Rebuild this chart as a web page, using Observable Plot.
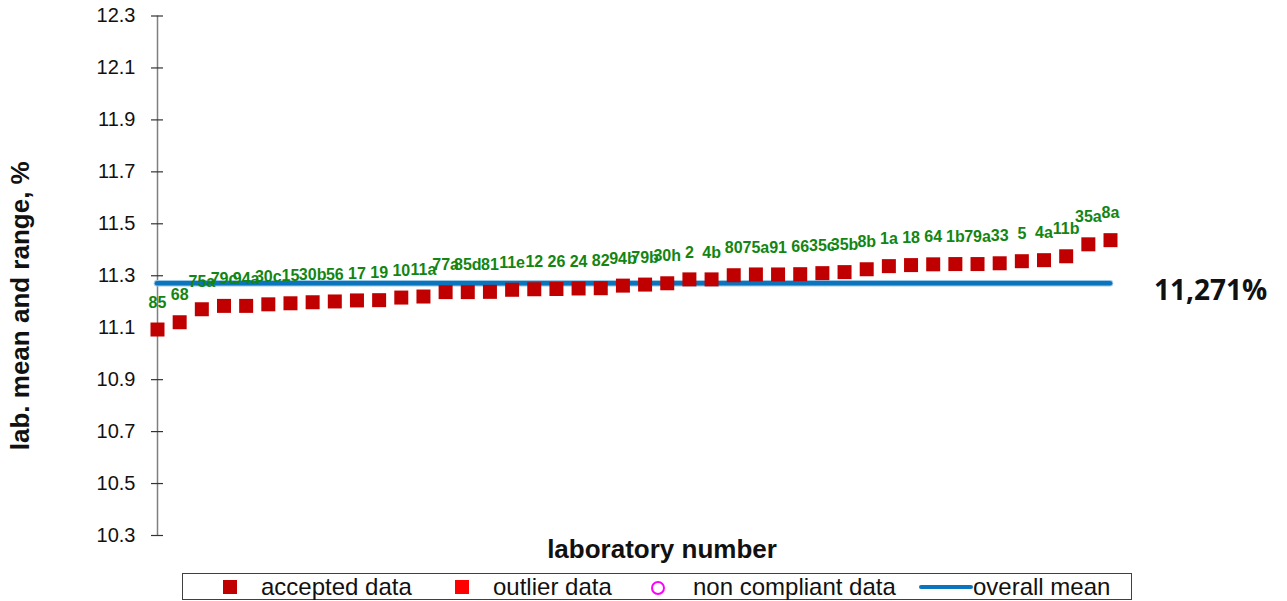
<!DOCTYPE html>
<html>
<head>
<meta charset="utf-8">
<script src="https://cdn.jsdelivr.net/npm/d3@7"></script>
<script src="https://cdn.jsdelivr.net/npm/@observablehq/plot@0.6"></script>
<style>
  body { margin: 0; background: #fff; font-family: "Liberation Sans", Arial, sans-serif; }
  #wrap { position: relative; width: 1287px; height: 601px; overflow: hidden; }
  #legend { position: absolute; left: 182px; top: 573px; width: 948px; height: 25px; border: 1px solid #404040; font-size: 24px; color: #111; }
  #legend span { position: absolute; top: 0px; line-height: 26px; white-space: nowrap; }
  .sw { position: absolute; }
</style>
</head>
<body>
<div id="wrap"></div>
<script>
const labs = ["85","68","75a","79c","94a","30c","15","30b","56","17","19","10","11a","77a","85d","81","11e","12","26","24","82","94b","79b","30h","2","4b","80","75a","91","66","35c","35b","8b","1a","18","64","1b","79a","33","5","4a","11b","35a","8a"];
const means = [11.093,11.121,11.171,11.184,11.184,11.190,11.194,11.198,11.201,11.205,11.206,11.216,11.220,11.237,11.237,11.238,11.246,11.248,11.249,11.251,11.252,11.262,11.266,11.271,11.286,11.286,11.302,11.305,11.305,11.306,11.310,11.314,11.325,11.337,11.341,11.344,11.345,11.345,11.348,11.356,11.360,11.375,11.421,11.437];
const overallMean = 11.271;
const yTicks = [10.3,10.5,10.7,10.9,11.1,11.3,11.5,11.7,11.9,12.1,12.3];
const meanLabel = "11,271%";
const yTitle = "lab. mean and range, %";
const xTitle = "laboratory number";
const legendItems = ["accepted data","outlier data","non compliant data","overall mean"];

const data = labs.map((lab, i) => ({i, lab, v: means[i]}));
const n = labs.length;

const chart = Plot.plot({
  width: 1287,
  height: 572,
  marginLeft: 157,
  marginRight: 177,
  marginTop: 15.5,
  marginBottom: 37,
  style: {fontFamily: "'Liberation Sans', Arial, sans-serif", background: "#fff"},
  x: {type: "linear", domain: [0, n - 1], axis: null},
  y: {domain: [10.3, 12.3], axis: null},
  marks: [
    Plot.ruleX([0], {y1: 10.3, y2: 12.3, stroke: "#7f7f7f", strokeWidth: 1.5}),
    Plot.axisY({ticks: yTicks, tickSize: 12, dx: 6, text: null, stroke: "#333", strokeWidth: 1.2, label: null}),
    Plot.axisY({ticks: yTicks, tickSize: 0, tickPadding: 22, tickFormat: d => d.toFixed(1), fontSize: 20, fill: "#111", label: null}),
    Plot.ruleY([overallMean], {x1: 0, x2: n - 1, stroke: "#9cc8e8", strokeWidth: 6.5, strokeLinecap: "round"}),
    Plot.ruleY([overallMean], {x1: 0, x2: n - 1, stroke: "#0a74bd", strokeWidth: 4.5, strokeLinecap: "round"}),
    Plot.dot(data, {x: "i", y: "v", symbol: "square", r: 7.9, fill: "#C00000", stroke: null}),
    Plot.text(data, {x: "i", y: "v", text: "lab", dy: -27, fill: "#128512", fontSize: 16, fontWeight: "bold"}),
    Plot.text([meanLabel], {x: n - 1, y: overallMean, text: d => d, dx: 100, dy: 8, fontSize: 28, fontWeight: "bold", fill: "#111", fontFamily: "'Open Sans', 'Liberation Sans', sans-serif"}),
    Plot.text([yTitle], {frameAnchor: "left", textAnchor: "middle", text: d => d, rotate: -90, dx: -137, dy: 30, fontSize: 26, fontWeight: "bold", fill: "#111"}),
    Plot.text([xTitle], {frameAnchor: "bottom", text: d => d, dx: 28, dy: 22, fontSize: 26, fontWeight: "bold", fill: "#111"})
  ]
});

const wrap = document.getElementById("wrap");
wrap.appendChild(chart);

const legend = document.createElement("div");
legend.id = "legend";
legend.innerHTML = `
  <div class="sw" style="left:40px;top:6px;width:14px;height:14px;background:#C00000"></div>
  <span style="left:78px">${legendItems[0]}</span>
  <div class="sw" style="left:272px;top:6px;width:14px;height:14px;background:#FF0000"></div>
  <span style="left:310px">${legendItems[1]}</span>
  <div class="sw" style="left:468px;top:7px;width:10px;height:10px;border:2px solid #FF00FF;border-radius:50%"></div>
  <span style="left:510px">${legendItems[2]}</span>
  <div class="sw" style="left:736px;top:11px;width:54px;height:4px;background:#0a74bd;border-radius:2px"></div>
  <span style="left:790px">${legendItems[3]}</span>
`;
wrap.appendChild(legend);
</script>
</body>
</html>
